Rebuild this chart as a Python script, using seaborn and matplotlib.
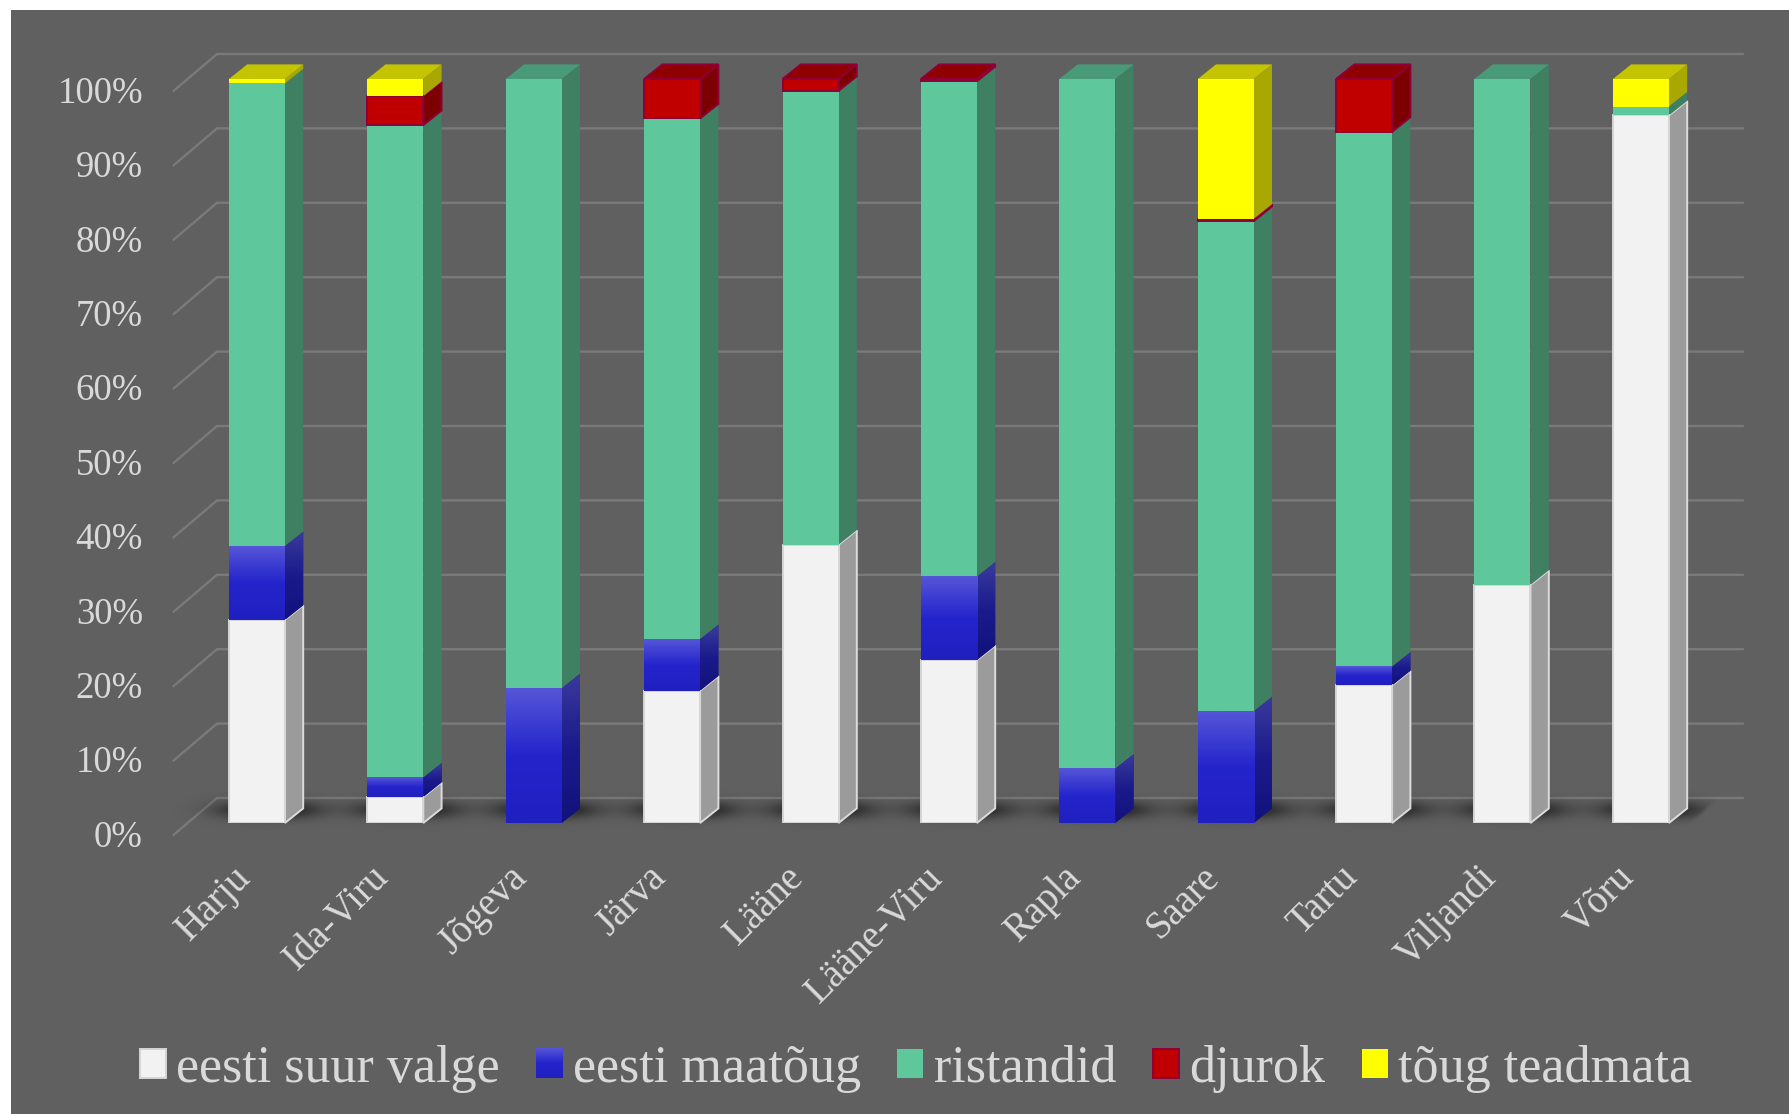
import numpy as np
import pandas as pd
import matplotlib
matplotlib.use("Agg")
import matplotlib.pyplot as plt
import seaborn as sns
from matplotlib.colors import LinearSegmentedColormap
from matplotlib.patches import Polygon, Rectangle
from matplotlib.transforms import ScaledTranslation

# ======================================================================
# Values (percent of each county)
# ======================================================================
counties = ["Harju", "Ida-Viru", "Jõgeva", "Järva", "Lääne", "Lääne-Viru",
            "Rapla", "Saare", "Tartu", "Viljandi", "Võru"]
suur_valge = [27.3, 3.5, 0.0, 17.8, 37.4, 21.9, 0.0, 0.0, 18.5, 32.0, 95.1]
maatoug = [9.9, 2.6, 18.1, 6.9, 0.0, 11.2, 7.3, 15.0, 2.5, 0.0, 0.0]
ristandid = [62.2, 87.7, 81.9, 70.0, 61.0, 66.6, 92.7, 65.9, 71.9, 68.0, 1.2]
djurok = [0.0, 3.9, 0.0, 5.3, 1.6, 0.3, 0.0, 0.3, 7.1, 0.0, 0.0]
teadmata = [0.6, 2.3, 0.0, 0.0, 0.0, 0.0, 0.0, 18.8, 0.0, 0.0, 3.7]
y_ticks = [0, 10, 20, 30, 40, 50, 60, 70, 80, 90, 100]

series_names = ["eesti suur valge", "eesti maatõug", "ristandid", "djurok", "tõug teadmata"]
series_values = [suur_valge, maatoug, ristandid, djurok, teadmata]

# front, side, top, edge
face_cols = ["#f2f2f2", "#2222c8", "#5ec89c", "#c00000", "#ffff00"]
side_cols = ["#9b9b9b", "#1a1a8c", "#3f8063", "#7d0000", "#a8a800"]
top_cols = ["#c8c8c8", "#2a2a9a", "#489a78", "#900000", "#c4c400"]
edge_cols = ["#d6d6d6", "#2222c8", "#5ec89c", "#8f0038", "#ffff00"]

BG = "#606060"
TXT = "#d9d9d9"
GRID = "#7a7a7a"

W, H = 1790, 1114

sns.set_theme(style="dark")
plt.rcParams["font.family"] = ["Liberation Serif", "DejaVu Serif"]

fig = plt.figure(figsize=(W / 100, H / 100), dpi=100, facecolor="white")
fig.add_artist(Rectangle((11 / W, 0), 1 - 11 / W, 1 - 10 / H, transform=fig.transFigure,
                         facecolor=BG, edgecolor="none", zorder=-10))

# axes sit on the plane of the bar fronts
px_left, px_right, px_bottom, px_top = 173.5, 1743, 823, 79
ax = fig.add_axes([px_left / W, 1 - px_bottom / H, (px_right - px_left) / W, (px_bottom - px_top) / H])
ax.patch.set_visible(False)

unit_x = 138.4
unit_y = (px_bottom - px_top) / 100
x_min = (px_left - 256.9) / unit_x
x_max = (px_right - 256.9) / unit_x
bar_w = 56 / unit_x
dx = 18.3 / unit_x
dy = 14.6 / unit_y

# wall lines: front edge -> back wall -> right end
front_x, back_x = x_min, (217 - 256.9) / unit_x
front_off, back_off = -12 / unit_y, 25 / unit_y
for v in y_ticks:
    ax.plot([front_x, back_x, x_max], [v + front_off, v + back_off, v + back_off],
            color=GRID, lw=1.7, clip_on=False, zorder=1, solid_joinstyle="miter")

# soft floor shadow behind the bars
gx = np.linspace(-0.63, 10.8, 1200)
gy = np.linspace(-1.5, 4.5, 80)
across = sum(np.exp(-(np.abs(gx - i - 0.08) / 0.37) ** 2.6) for i in range(len(counties)))
along = np.exp(-((gy - 1.75) / 1.2) ** 2)
shade = np.zeros((len(gy), len(gx), 4))
shade[..., 3] = 0.7 * np.outer(along, np.clip(across, 0, 1))
# slanted cut at the far right end of the floor
limit_x = 10.45 + (gy - 1.0) * 0.055
shade[..., 3] *= np.clip((limit_x[:, None] - gx[None, :]) / 0.05, 0, 1)
ax.imshow(shade, extent=[gx[0], gx[-1], gy[0], gy[-1]], origin="lower", aspect="auto",
          zorder=1.5, clip_on=False)

blue_front = LinearSegmentedColormap.from_list("bf", ["#2020c0", "#2424cc", "#5555d8"])
blue_side = LinearSegmentedColormap.from_list("bs", ["#12127c", "#1a1a8c", "#3a3a9c"])
ramp = np.linspace(0, 1, 64).reshape(-1, 1)

df = pd.DataFrame({"county": counties})
bottoms = np.zeros(len(counties))
for idx, (name, vals) in enumerate(zip(series_names, series_values)):
    df[name] = vals
    sns.barplot(data=df, x="county", y=name, bottom=bottoms, color=face_cols[idx], saturation=1,
                width=bar_w, errorbar=None, label=name, edgecolor=edge_cols[idx],
                linewidth=1.4 if idx in (0, 3) else 0, zorder=3, ax=ax)
    bars = ax.containers[-1]
    for i, (bar, v) in enumerate(zip(bars, vals)):
        if v <= 0:
            bar.set_linewidth(0)
            continue
        x1 = i + bar_w / 2
        b0, b1 = bottoms[i], bottoms[i] + v
        side = Polygon([(x1, b0), (x1 + dx, b0 + dy), (x1 + dx, b1 + dy), (x1, b1)],
                       closed=True, facecolor=side_cols[idx], zorder=2.8 + idx * 0.01,
                       edgecolor="#dcdcdc" if idx == 0 else edge_cols[idx] if idx == 3 else "none",
                       lw=1.4 if idx in (0, 3) else 0, clip_on=False)
        ax.add_patch(side)
        if idx == 1:
            # gradient on the blue segments
            im = ax.imshow(ramp, cmap=blue_front, extent=[i - bar_w / 2, x1, b0, b1], origin="lower",
                           aspect="auto", zorder=3.1)
            im = ax.imshow(ramp, cmap=blue_side, extent=[x1, x1 + dx, b0, b1 + dy], origin="lower",
                           aspect="auto", zorder=2.9)
            im.set_clip_path(side)
    bottoms = bottoms + np.array(vals)

# top faces on the highest segment of each bar
for i in range(len(counties)):
    top_idx = max(k for k in range(5) if series_values[k][i] > 0)
    x0, x1 = i - bar_w / 2, i + bar_w / 2
    level = bottoms[i]
    ax.add_patch(Polygon([(x0, level), (x0 + dx, level + dy), (x1 + dx, level + dy), (x1, level)],
                         closed=True, facecolor=top_cols[top_idx], zorder=3, clip_on=False,
                         edgecolor=edge_cols[top_idx] if top_idx == 3 else "none",
                         lw=1.4 if top_idx == 3 else 0))

ax.set_xlim(x_min, x_max)
ax.set_ylim(0, 100)
sns.despine(ax=ax, left=True, bottom=True)
ax.grid(False)
ax.set_xlabel("")
ax.set_ylabel("")

ax.set_yticks(y_ticks)
ax.set_yticklabels([f"{v}%" for v in y_ticks], fontsize=26.5, color=TXT)
ax.tick_params(axis="y", length=0, pad=22)
y_shift = ScaledTranslation(0, -10.5 / 100, fig.dpi_scale_trans)
for lab in ax.get_yticklabels():
    lab.set_transform(lab.get_transform() + y_shift)

ax.set_xticks(range(len(counties)))
ax.set_xticklabels(counties, fontsize=28, color=TXT, rotation=45, ha="right", va="top",
                   rotation_mode="anchor")
ax.tick_params(axis="x", length=0, pad=26)
x_shift = ScaledTranslation(-25 / 100, 0, fig.dpi_scale_trans)
for lab in ax.get_xticklabels():
    lab.set_transform(lab.get_transform() + x_shift)

leg = ax.legend(loc="center", bbox_to_anchor=((916 - px_left) / (px_right - px_left), (px_bottom - 1069) / (px_bottom - px_top)),
                ncol=5, frameon=False, fontsize=37.5, labelcolor=TXT, handlelength=0.5, handleheight=0.5,
                handletextpad=0.2, columnspacing=0.7, borderaxespad=0)
leg.legend_handles[0].set_linewidth(1.4)
leg.legend_handles[3].set_edgecolor(edge_cols[3])
leg.legend_handles[3].set_linewidth(1.4)

# gradient on the blue legend key
fig.canvas.draw()
bb = leg.legend_handles[1].get_window_extent()
(lx0, ly0), (lx1, ly1) = ax.transData.inverted().transform([(bb.x0, bb.y0), (bb.x1, bb.y1)])
ax.imshow(ramp, cmap=blue_front, extent=[lx0, lx1, ly0, ly1], origin="lower", aspect="auto",
          zorder=6, clip_on=False)
ax.set_xlim(x_min, x_max)
ax.set_ylim(0, 100)

fig.savefig("out.png", dpi=100, facecolor="white")
